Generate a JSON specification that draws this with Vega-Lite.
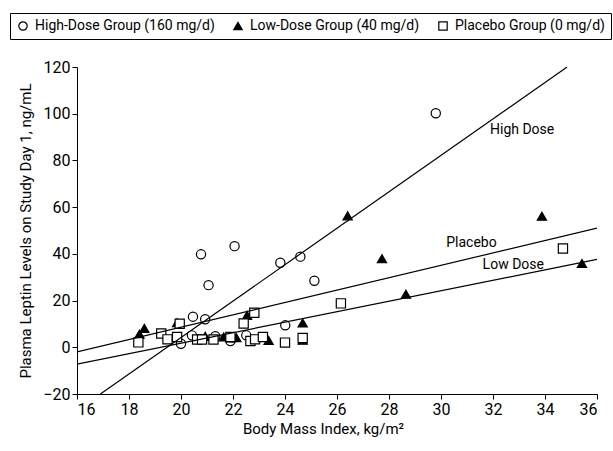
{
  "$schema": "https://vega.github.io/schema/vega-lite/v6.json",
  "width": 520,
  "height": 327,
  "autosize": "none",
  "padding": {"left": 77, "top": 67, "right": 16, "bottom": 57},
  "background": "white",
  "datasets": {
    "points": [
      {"bmi": 29.8, "leptin": 100.2, "group": "High-Dose Group (160 mg/d)"},
      {"bmi": 22.06, "leptin": 43.3, "group": "High-Dose Group (160 mg/d)"},
      {"bmi": 20.77, "leptin": 39.8, "group": "High-Dose Group (160 mg/d)"},
      {"bmi": 24.59, "leptin": 38.8, "group": "High-Dose Group (160 mg/d)"},
      {"bmi": 23.82, "leptin": 36.2, "group": "High-Dose Group (160 mg/d)"},
      {"bmi": 25.13, "leptin": 28.5, "group": "High-Dose Group (160 mg/d)"},
      {"bmi": 21.06, "leptin": 26.6, "group": "High-Dose Group (160 mg/d)"},
      {"bmi": 20.46, "leptin": 13.1, "group": "High-Dose Group (160 mg/d)"},
      {"bmi": 20.93, "leptin": 12.0, "group": "High-Dose Group (160 mg/d)"},
      {"bmi": 24.01, "leptin": 9.4, "group": "High-Dose Group (160 mg/d)"},
      {"bmi": 20.42, "leptin": 5.1, "group": "High-Dose Group (160 mg/d)"},
      {"bmi": 21.32, "leptin": 4.7, "group": "High-Dose Group (160 mg/d)"},
      {"bmi": 22.51, "leptin": 5.1, "group": "High-Dose Group (160 mg/d)"},
      {"bmi": 20.0, "leptin": 1.5, "group": "High-Dose Group (160 mg/d)"},
      {"bmi": 21.9, "leptin": 2.7, "group": "High-Dose Group (160 mg/d)"},
      {"bmi": 33.88, "leptin": 56.1, "group": "Low-Dose Group (40 mg/d)"},
      {"bmi": 26.41, "leptin": 56.3, "group": "Low-Dose Group (40 mg/d)"},
      {"bmi": 27.73, "leptin": 37.9, "group": "Low-Dose Group (40 mg/d)"},
      {"bmi": 35.42, "leptin": 35.9, "group": "Low-Dose Group (40 mg/d)"},
      {"bmi": 28.65, "leptin": 22.7, "group": "Low-Dose Group (40 mg/d)"},
      {"bmi": 22.54, "leptin": 13.7, "group": "Low-Dose Group (40 mg/d)"},
      {"bmi": 24.68, "leptin": 10.4, "group": "Low-Dose Group (40 mg/d)"},
      {"bmi": 19.85, "leptin": 10.5, "group": "Low-Dose Group (40 mg/d)"},
      {"bmi": 18.4, "leptin": 5.6, "group": "Low-Dose Group (40 mg/d)"},
      {"bmi": 18.59, "leptin": 8.1, "group": "Low-Dose Group (40 mg/d)"},
      {"bmi": 20.93, "leptin": 4.7, "group": "Low-Dose Group (40 mg/d)"},
      {"bmi": 21.64, "leptin": 4.4, "group": "Low-Dose Group (40 mg/d)"},
      {"bmi": 22.13, "leptin": 4.1, "group": "Low-Dose Group (40 mg/d)"},
      {"bmi": 23.37, "leptin": 2.9, "group": "Low-Dose Group (40 mg/d)"},
      {"bmi": 24.68, "leptin": 3.0, "group": "Low-Dose Group (40 mg/d)"},
      {"bmi": 21.9, "leptin": 4.0, "group": "Low-Dose Group (40 mg/d)"},
      {"bmi": 34.69, "leptin": 42.3, "group": "Placebo Group (0 mg/d)"},
      {"bmi": 26.15, "leptin": 18.8, "group": "Placebo Group (0 mg/d)"},
      {"bmi": 22.82, "leptin": 14.8, "group": "Placebo Group (0 mg/d)"},
      {"bmi": 22.41, "leptin": 10.2, "group": "Placebo Group (0 mg/d)"},
      {"bmi": 19.95, "leptin": 10.1, "group": "Placebo Group (0 mg/d)"},
      {"bmi": 19.24, "leptin": 5.9, "group": "Placebo Group (0 mg/d)"},
      {"bmi": 19.48, "leptin": 3.4, "group": "Placebo Group (0 mg/d)"},
      {"bmi": 19.85, "leptin": 4.4, "group": "Placebo Group (0 mg/d)"},
      {"bmi": 20.62, "leptin": 3.3, "group": "Placebo Group (0 mg/d)"},
      {"bmi": 20.81, "leptin": 3.3, "group": "Placebo Group (0 mg/d)"},
      {"bmi": 21.25, "leptin": 3.3, "group": "Placebo Group (0 mg/d)"},
      {"bmi": 21.9, "leptin": 4.4, "group": "Placebo Group (0 mg/d)"},
      {"bmi": 22.67, "leptin": 2.7, "group": "Placebo Group (0 mg/d)"},
      {"bmi": 22.85, "leptin": 3.4, "group": "Placebo Group (0 mg/d)"},
      {"bmi": 23.15, "leptin": 4.4, "group": "Placebo Group (0 mg/d)"},
      {"bmi": 24.0, "leptin": 2.0, "group": "Placebo Group (0 mg/d)"},
      {"bmi": 24.68, "leptin": 4.0, "group": "Placebo Group (0 mg/d)"},
      {"bmi": 18.36, "leptin": 2.1, "group": "Placebo Group (0 mg/d)"}
    ],
    "fits": [
      {"fit": "High Dose", "bmi": 16.9, "leptin": -20},
      {"fit": "High Dose", "bmi": 34.85, "leptin": 120},
      {"fit": "Placebo", "bmi": 16, "leptin": -2},
      {"fit": "Placebo", "bmi": 36, "leptin": 51},
      {"fit": "Low Dose", "bmi": 16, "leptin": -7.2},
      {"fit": "Low Dose", "bmi": 36, "leptin": 37.6}
    ],
    "labels": [
      {"label": "High Dose", "bmi": 33.12, "leptin": 93},
      {"label": "Placebo", "bmi": 31.17, "leptin": 44.6},
      {"label": "Low Dose", "bmi": 32.78, "leptin": 35.1}
    ]
  },
  "layer": [
    {
      "mark": {"type": "rule", "color": "#c8c8c8", "strokeWidth": 2},
      "encoding": {"y": {"datum": 0, "type": "quantitative"}}
    },
    {
      "data": {"name": "points"},
      "mark": {"type": "point", "filled": false, "strokeWidth": 1.2, "opacity": 1, "size": 85},
      "encoding": {
        "x": {
          "field": "bmi", "type": "quantitative",
          "scale": {"domain": [16, 36], "nice": false, "zero": false},
          "axis": {"values": [16, 18, 20, 22, 24, 26, 28, 30, 32, 34, 36], "title": "Body Mass Index, kg/m²", "titleX": 246}
        },
        "y": {
          "field": "leptin", "type": "quantitative",
          "scale": {"domain": [-20, 120], "nice": false, "zero": false},
          "axis": {"values": [-20, 0, 20, 40, 60, 80, 100, 120], "title": "Plasma Leptin Levels on Study Day 1, ng/mL"}
        },
        "shape": {
          "field": "group", "type": "nominal",
          "scale": {"domain": ["High-Dose Group (160 mg/d)", "Low-Dose Group (40 mg/d)", "Placebo Group (0 mg/d)"], "range": ["circle", "triangle-up", "square"]},
          "legend": {"title": null}
        },
        "fill": {
          "field": "group", "type": "nominal",
          "scale": {"domain": ["High-Dose Group (160 mg/d)", "Low-Dose Group (40 mg/d)", "Placebo Group (0 mg/d)"], "range": ["white", "black", "white"]},
          "legend": {"title": null}
        },
        "stroke": {
          "field": "group", "type": "nominal",
          "scale": {"domain": ["High-Dose Group (160 mg/d)", "Low-Dose Group (40 mg/d)", "Placebo Group (0 mg/d)"], "range": ["black", "black", "black"]},
          "legend": {"title": null}
        }
      }
    },
    {
      "data": {"name": "fits"},
      "mark": {"type": "line", "color": "black", "strokeWidth": 1.2, "clip": true},
      "encoding": {
        "x": {"field": "bmi", "type": "quantitative"},
        "y": {"field": "leptin", "type": "quantitative"},
        "detail": {"field": "fit", "type": "nominal"}
      }
    },
    {
      "data": {"name": "labels"},
      "mark": {"type": "text", "font": "Roboto", "fontSize": 14, "color": "black", "align": "center", "baseline": "middle"},
      "encoding": {
        "x": {"field": "bmi", "type": "quantitative"},
        "y": {"field": "leptin", "type": "quantitative"},
        "text": {"field": "label"}
      }
    }
  ],
  "config": {
    "view": {"stroke": null},
    "font": "Roboto",
    "axis": {
      "grid": false,
      "domainColor": "black",
      "tickColor": "black",
      "labelColor": "black",
      "titleColor": "black",
      "labelFont": "Roboto",
      "titleFont": "Roboto",
      "labelFontSize": 16,
      "titleFontSize": 15,
      "titleFontWeight": "normal",
      "tickSize": 5,
      "labelPadding": 2
    },
    "axisX": {"titlePadding": 4},
    "axisY": {"titlePadding": 9},
    "legend": {
      "orient": "none",
      "legendX": -67,
      "legendY": -54,
      "direction": "horizontal",
      "columns": 3,
      "strokeColor": "black",
      "padding": 6,
      "columnPadding": 16,
      "labelFont": "Roboto",
      "labelFontSize": 14,
      "labelColor": "black",
      "labelLimit": 400,
      "symbolSize": 70,
      "symbolStrokeWidth": 1.2,
      "labelOffset": 5
    }
  }
}
